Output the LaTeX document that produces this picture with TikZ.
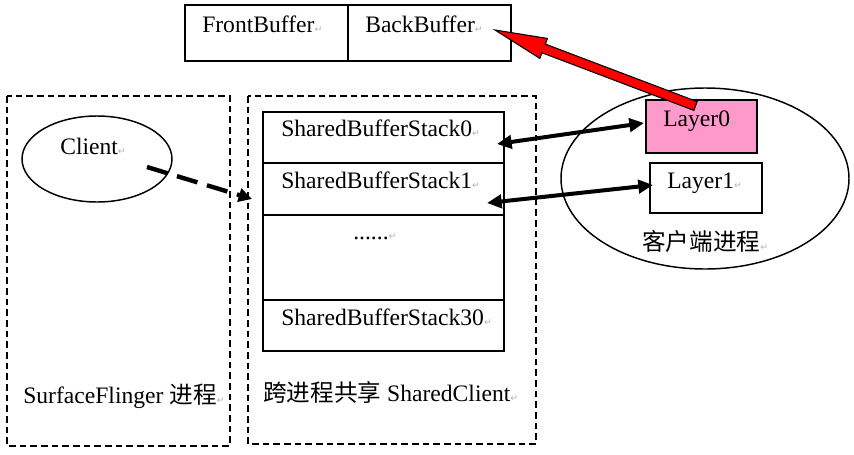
\documentclass[tikz,border=0pt]{standalone}
\usepackage{fontspec}
\setmainfont{Liberation Serif}
\newfontfamily\cjk{Noto Sans CJK SC}
\newfontfamily\symf{DejaVu Sans}
\usetikzlibrary{shapes.geometric,arrows.meta,calc}
\newcommand{\ret}{{\symf\fontsize{7}{8}\selectfont\color{gray!60}\char"21B5}}
\definecolor{layerpink}{HTML}{FF99CC}
\begin{document}
\begin{tikzpicture}[x=0.75pt,y=-0.75pt,
  txt/.style={anchor=base west, inner sep=0pt, font=\fontsize{17.7}{20}\selectfont},
  box/.style={draw, line width=1.4pt, inner sep=0pt},
  dbox/.style={draw, line width=1.3pt, dash pattern=on 5pt off 3pt},
  ell/.style={draw, ellipse, line width=1.1pt, inner sep=0pt},
  dbl/.style={line width=3pt, {Triangle[length=11pt,width=10pt]}-{Triangle[length=11pt,width=10pt]}},
]
\useasboundingbox (0,0) rectangle (854,454);
% top buffers
\node[box, minimum width=122.25pt, minimum height=42pt] (fb) at (266.5,33) {};
\node[box, minimum width=122.25pt, minimum height=42pt] (bb) at (429.5,33) {};
\node[txt] (fbt) at (202,32) {FrontBuffer\ret};
\node[txt] (bbt) at (365,32) {BackBuffer\ret};
% dashed process boxes
\draw[dbox] (7,96) rectangle (230,446);
\draw[dbox] (248,96) rectangle (536,444);
% client
\node[ell, minimum width=112.5pt, minimum height=64.5pt] (client) at (97,159) {};
\node[txt] (clientt) at (60,154) {Client\ret};
% stack
\node[box, minimum width=180.75pt, minimum height=38.25pt] (s0) at (383.5,137.5) {};
\node[box, minimum width=180.75pt, minimum height=39pt] (s1) at (383.5,189) {};
\node[box, minimum width=180.75pt, minimum height=63.75pt] (sd) at (383.5,257.5) {};
\node[box, minimum width=180.75pt, minimum height=38.25pt] (s30) at (383.5,325.5) {};
\node[txt] (s0t) at (281,136) {SharedBufferStack0\ret};
\node[txt] (s1t) at (281,188) {SharedBufferStack1\ret};
\node[txt] (sdt) at (353,239) {......\ret};
\node[txt] (s30t) at (281,325) {SharedBufferStack30\ret};
% labels
\node[txt] (sfl) at (23,403) {SurfaceFlinger {\cjk 进程}\ret};
\node[txt] (scl) at (263,401) {{\cjk 跨进程共享} SharedClient\ret};
% client process ellipse
\node[ell, minimum width=216pt, minimum height=135.75pt] (cp) at (705,178.5) {};
\node[box, fill=layerpink, minimum width=83.25pt, minimum height=39.75pt] (l0) at (701.5,126.5) {};
\node[box, minimum width=84pt, minimum height=37.5pt] (l1) at (706,188) {};
\node[txt] (l0t) at (663,126) {Layer0\ret};
\node[txt] (l1t) at (667,188) {Layer1\ret};
\node[txt] (cpt) at (642,250) {{\cjk 客户端进程}\ret};
% connectors
\coordinate (ca) at (147,167);
\coordinate (cb) at (252,199);
\draw[line width=3.3pt, dash pattern=on 16pt off 7.5pt, -{Triangle[length=10pt,width=10pt]}] (ca) -- (cb);
\coordinate (a0) at (497,144);
\coordinate (b0) at (644,123);
\coordinate (a1) at (487,203);
\coordinate (b1) at (653,185);
\draw[dbl] (a0) -- (b0);
\draw[dbl] (a1) -- (b1);
% red arrow
\coordinate (rt) at (695.5,106);
\coordinate (rh) at (495,30);
\coordinate (rb) at ($(rh)!39pt!(rt)$);
\draw[fill=red, line width=0.8pt, line join=miter]
  ($(rt)!3.5pt!90:(rh)$) -- ($(rb)!3.5pt!-90:(rt)$) -- ($(rb)!8pt!-90:(rt)$) -- (rh)
  -- ($(rb)!8pt!90:(rt)$) -- ($(rb)!3.5pt!90:(rt)$) -- ($(rt)!3.5pt!-90:(rh)$) -- cycle;
\end{tikzpicture}
\end{document}
